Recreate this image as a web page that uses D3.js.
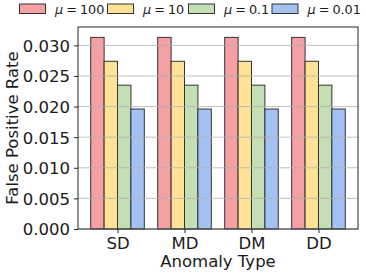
<!DOCTYPE html>
<html>
<head>
<meta charset="utf-8">
<script src="https://cdn.jsdelivr.net/npm/d3@7"></script>
<style>
  body { margin: 0; background: #fff; }
  text { font-family: "DejaVu Sans", sans-serif; fill: #1a1a1a; }
</style>
</head>
<body>
<div id="wrapper"></div>
<script>
const categories = ["SD", "MD", "DM", "DD"]
const seriesNames = ["100", "10", "0.1", "0.01"]
const seriesColors = ["#f4a0a5", "#ffe296", "#c5dfb4", "#a3c2f2"]
// one value per series, repeated for each anomaly type
const fprValues = {
    "100":  [0.0313, 0.0313, 0.0313, 0.0313],
    "10":   [0.0274, 0.0274, 0.0274, 0.0274],
    "0.1":  [0.0235, 0.0235, 0.0235, 0.0235],
    "0.01": [0.0196, 0.0196, 0.0196, 0.0196],
}
const yTicks = [0, 0.005, 0.010, 0.015, 0.020, 0.025, 0.030]

function drawBarChart() {
    const dimensions = {
        width: 366,
        height: 273,
        margin: { top: 27, right: 8, bottom: 44, left: 78 },
    }
    dimensions.boundedWidth = dimensions.width - dimensions.margin.left - dimensions.margin.right
    dimensions.boundedHeight = dimensions.height - dimensions.margin.top - dimensions.margin.bottom

    const wrapper = d3.select("#wrapper")
        .append("svg")
        .attr("width", dimensions.width)
        .attr("height", dimensions.height)

    const bounds = wrapper.append("g")
        .attr("transform", `translate(${dimensions.margin.left}, ${dimensions.margin.top})`)

    // scales
    const barWidth = 0.2
    const xScale = d3.scaleLinear()
        .domain([-0.59, categories.length - 1 + 0.59])
        .range([0, dimensions.boundedWidth])

    const yScale = d3.scaleLinear()
        .domain([0, 0.033])
        .range([dimensions.boundedHeight, 0])

    // bars
    seriesNames.forEach((name, si) => {
        const offset = (si - 1.5) * barWidth
        bounds.append("g")
            .selectAll("rect")
            .data(fprValues[name])
            .join("rect")
            .attr("x", (d, i) => xScale(i + offset - barWidth / 2))
            .attr("width", xScale(barWidth) - xScale(0))
            .attr("y", d => yScale(d))
            .attr("height", d => yScale(0) - yScale(d))
            .attr("fill", seriesColors[si])
            .attr("stroke", "#333")
            .attr("stroke-width", 1)
    })

    // grid on top
    bounds.append("g")
        .selectAll("line")
        .data(yTicks)
        .join("line")
        .attr("x1", 0)
        .attr("x2", dimensions.boundedWidth)
        .attr("y1", d => yScale(d))
        .attr("y2", d => yScale(d))
        .attr("stroke", "#b0b0b0")
        .attr("stroke-opacity", 0.8)
        .attr("stroke-width", 1)

    // axes
    const yAxisGenerator = d3.axisLeft(yScale)
        .tickValues(yTicks)
        .tickFormat(d3.format(".3f"))
        .tickSize(4)
        .tickPadding(4)
    const yAxis = bounds.append("g").call(yAxisGenerator)
    yAxis.select(".domain").remove()
    yAxis.selectAll("text").style("font-size", "16.5px").attr("dy", "0.36em")
    yAxis.selectAll("line").attr("stroke", "#262626")

    const xAxisGenerator = d3.axisBottom(xScale)
        .tickValues(d3.range(categories.length))
        .tickFormat(i => categories[i])
        .tickSize(4)
        .tickPadding(4)
    const xAxis = bounds.append("g")
        .attr("transform", `translate(0, ${dimensions.boundedHeight})`)
        .call(xAxisGenerator)
    xAxis.select(".domain").remove()
    xAxis.selectAll("text").style("font-size", "16.5px")
    xAxis.selectAll("line").attr("stroke", "#262626")

    // frame
    bounds.append("rect")
        .attr("width", dimensions.boundedWidth)
        .attr("height", dimensions.boundedHeight)
        .attr("fill", "none")
        .attr("stroke", "#262626")
        .attr("stroke-width", 1)

    // axis labels
    wrapper.append("text")
        .attr("x", dimensions.margin.left + dimensions.boundedWidth / 2)
        .attr("y", 266.5)
        .attr("text-anchor", "middle")
        .style("font-size", "16.5px")
        .text("Anomaly Type")

    wrapper.append("text")
        .attr("transform", `translate(18, ${dimensions.margin.top + dimensions.boundedHeight / 2}) rotate(-90)`)
        .attr("text-anchor", "middle")
        .style("font-size", "16.5px")
        .text("False Positive Rate")

    // legend
    const legendX = [19.5, 107.5, 188.5, 272]
    const legend = wrapper.append("g")
    seriesNames.forEach((name, si) => {
        const lx = legendX[si]
        legend.append("rect")
            .attr("x", lx)
            .attr("y", 4)
            .attr("width", 26)
            .attr("height", 9.5)
            .attr("fill", seriesColors[si])
            .attr("stroke", "#333")
        const t = legend.append("text")
            .attr("x", lx + 35.5)
            .attr("y", 13.5)
            .style("font-size", "12.8px")
        t.append("tspan").style("font-style", "italic").text("μ")
        t.append("tspan").attr("dx", 3).text("=")
        t.append("tspan").attr("dx", 3).text(name)
    })
}

drawBarChart()
</script>
</body>
</html>
